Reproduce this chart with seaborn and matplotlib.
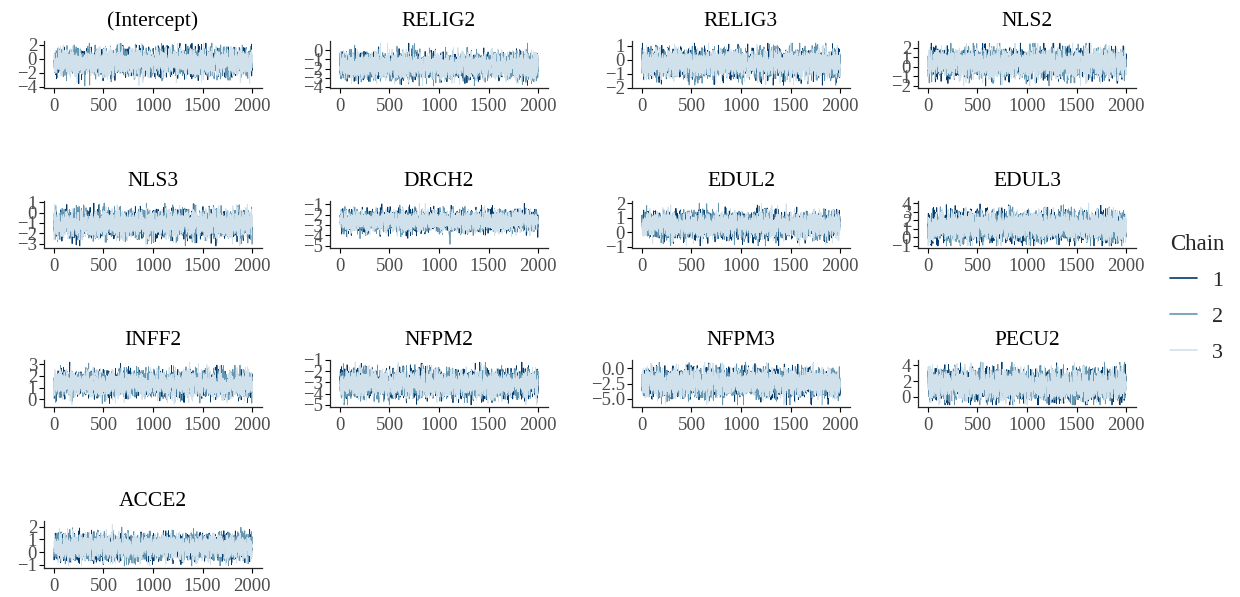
import numpy as np
import pandas as pd
import matplotlib
matplotlib.use("Agg")
import matplotlib.pyplot as plt
from matplotlib.lines import Line2D
import seaborn as sns

# Parameters shown in the trace plot (row-wise, 4 per row)
params = ["(Intercept)", "RELIG2", "RELIG3", "NLS2",
          "NLS3", "DRCH2", "EDUL2", "EDUL3",
          "INFF2", "NFPM2", "NFPM3", "PECU2",
          "ACCE2"]

# Posterior centre and spread
post_mean = [-0.5, -1.7, -0.25, 0.4, -1.1, -2.6, 0.5, 1.3, 1.3, -3.1, -2.4, 1.5, 0.4]
post_sd = [0.95, 0.7, 0.5, 0.75, 0.65, 0.5, 0.45, 0.85, 0.55, 0.6, 1.1, 0.95, 0.5]

# Observed min / max of the traces (y range of each panel)
trace_min = [-3.9, -3.9, -1.8, -2.0, -3.2, -5.0, -0.95, -1.0, -0.5, -5.0, -6.0, -1.0, -1.1]
trace_max = [2.2, 0.8, 1.2, 2.5, 0.9, -0.9, 2.0, 4.0, 3.2, -1.2, 1.0, 4.4, 2.3]

# Tick labels on the y axes
y_ticks = [[-4, -2, 0, 2], [-4, -3, -2, -1, 0], [-2, -1, 0, 1], [-2, -1, 0, 1, 2],
           [-3, -2, -1, 0, 1], [-5, -4, -3, -2, -1], [-1, 0, 1, 2], [-1, 0, 1, 2, 3, 4],
           [0, 1, 2, 3], [-5, -4, -3, -2, -1], [-5.0, -2.5, 0.0], [0, 2, 4],
           [-1, 0, 1, 2]]
x_ticks = [0, 500, 1000, 1500, 2000]

chains = ["1", "2", "3"]
n_iter = 2000
chain_colors = {"1": "#03396c", "2": "#6497b1", "3": "#d1e1ec"}

# Simulated MCMC draws (seeded) around the centre/spread
rng = np.random.default_rng(7)
frames = []
for p, m, s, lo, hi in zip(params, post_mean, post_sd, trace_min, trace_max):
    for c in chains:
        v = np.clip(m + s * rng.standard_normal(n_iter), lo, hi)
        frames.append(pd.DataFrame({"param": p, "chain": c,
                                    "iteration": np.arange(1, n_iter + 1), "value": v}))
draws = pd.concat(frames, ignore_index=True)

sns.set_style("ticks")
plt.rcParams["font.family"] = ["Liberation Serif", "DejaVu Serif"]

fig = plt.figure(figsize=(12.4, 5.97), dpi=100)
W, H = 1240, 597
col_left = [44, 330, 632, 918]
row_bottom = [88, 248, 407, 568]
ax_w, ax_h = 218, 47

for i, p in enumerate(params):
    r, c = divmod(i, 4)
    ax = fig.add_axes([col_left[c] / W, 1 - row_bottom[r] / H, ax_w / W, ax_h / H])
    sub = draws[draws["param"] == p]
    sns.lineplot(data=sub, x="iteration", y="value", hue="chain", hue_order=chains,
                 palette=chain_colors, estimator=None, sort=False, linewidth=0.6,
                 legend=False, ax=ax)
    lo, hi = trace_min[i], trace_max[i]
    pad = (hi - lo) * 0.05
    ax.set_ylim(lo - pad, hi + pad)
    ax.set_xlim(-100, 2100)
    ax.set_xticks(x_ticks)
    ax.set_yticks(y_ticks[i])
    if p == "NFPM3":
        ax.set_yticklabels([f"{t:.1f}".replace("-", "\u2212") for t in y_ticks[i]])
    ax.set_xlabel("")
    ax.set_ylabel("")
    ax.set_title(p, fontsize=15.5, color="black", pad=11)
    ax.tick_params(labelsize=13.5, labelcolor="#4d4d4d", color="black",
                   length=3.5, width=0.8)
    ax.tick_params(axis="x", pad=4)
    ax.tick_params(axis="y", pad=1.5)
    for side in ["top", "right"]:
        ax.spines[side].set_visible(False)
    for side in ["left", "bottom"]:
        ax.spines[side].set_linewidth(0.9)

handles = [Line2D([], [], color=chain_colors[c], lw=1.2) for c in chains]
leg = fig.legend(handles, chains, title="Chain", loc="center left",
                 bbox_to_anchor=(1170 / W, 0.5), frameon=False, fontsize=16,
                 title_fontsize=16.5, handlelength=1.2, handletextpad=0.7,
                 labelspacing=0.7, borderpad=0, borderaxespad=0)
leg._legend_box.align = "left"

fig.savefig("out.png", dpi=100)
